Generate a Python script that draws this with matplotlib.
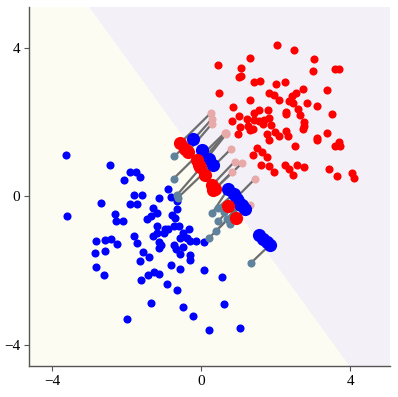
import numpy as np
from matplotlib import pyplot as plt

# clean points, class 0 (blue) and class 1 (red)
blue_x = [-3.62, -2.46, -1.91, -1.76, -1.64, -2.07, -0.89, -1.79, -1.58, -1.12,
          -2.68, -1.91, -1.71, -0.82, -0.64, -1.28, -1.19, -1.35, -1.46, -0.64,
          -2.31, -3.60, -2.28, -2.09, -0.79, -0.69, -1.19, -0.74, -0.59, -0.97,
          -0.90, -1.01, -0.32, -0.48, -1.19, -1.28, -1.79, -2.83, -2.58, -2.42,
          -2.26, -1.73, -1.12, -1.08, -1.14, -0.56, -0.38, -0.30, -0.14, 0.07,
          -0.72, -0.49, -0.67, -0.58, -2.84, -2.59, -1.55, -1.39, -1.64, -0.29,
          -0.31, -2.81, -2.60, -0.82, -0.56, 0.07, -1.26, -1.12, -1.44, -1.62,
          -0.92, -0.64, 0.56, -1.35, -0.48, -0.23, 0.62, -1.99, 0.21, 1.05]
blue_y = [1.11, 0.84, 0.65, 0.65, 0.53, 0.44, 0.19, 0.05, 0.05, -0.05,
          -0.19, -0.21, -0.21, -0.02, -0.13, -0.32, -0.46, -0.52, -0.61, -0.35,
          -0.47, -0.54, -0.67, -0.65, -0.51, -0.57, -0.80, -0.80, -0.80, -0.89,
          -0.89, -0.98, -0.87, -0.98, -0.98, -1.06, -1.07, -1.20, -1.17, -1.14,
          -1.27, -1.26, -1.24, -1.30, -1.38, -1.13, -1.11, -1.21, -1.21, -1.24,
          -1.30, -1.37, -1.43, -1.54, -1.52, -1.48, -1.51, -1.64, -1.73, -1.58,
          -1.72, -1.91, -2.12, -1.85, -1.95, -1.98, -2.04, -2.09, -2.13, -2.26,
          -2.35, -2.53, -2.16, -2.87, -2.97, -3.21, -2.91, -3.29, -3.60, -3.54]

red_x = [2.04, 2.50, 0.45, 1.30, 3.03, 1.06, 1.02, 1.06, 3.00, 3.58,
         3.71, 1.43, 1.59, 2.01, 2.24, 0.48, 1.83, 1.96, 2.09, 2.54,
         2.43, 2.74, 3.37, 1.32, 2.36, 2.46, 2.85, 0.86, 3.10, 1.43,
         1.54, 1.79, 1.01, 2.29, 2.28, 2.60, 2.66, 0.83, 1.24, 1.43,
         1.55, 1.70, 1.83, 2.75, 2.77, 2.74, 3.50, 1.05, 1.27, 1.32,
         1.40, 1.67, 1.87, 0.99, 1.76, 1.99, 2.10, 2.28, 2.34, 1.81,
         3.38, 3.11, 3.10, 2.52, 1.51, 1.63, 1.38, 1.78, 3.60, 3.69,
         3.73, 1.60, 1.81, 1.95, 2.24, 2.37, 2.46, 2.57, 2.77, 3.42,
         3.65, 4.05, 4.09]
red_y = [4.09, 3.94, 3.55, 3.72, 3.69, 3.46, 3.22, 3.25, 3.38, 3.42,
         3.42, 3.09, 3.11, 3.04, 3.07, 2.80, 2.80, 2.74, 2.60, 2.80,
         2.70, 2.90, 2.88, 2.59, 2.57, 2.51, 2.51, 2.41, 2.43, 2.26,
         2.34, 2.32, 2.18, 2.27, 2.23, 2.35, 2.20, 2.03, 2.08, 2.05,
         2.03, 2.05, 2.10, 2.00, 1.91, 1.81, 2.21, 1.86, 1.89, 1.78,
         1.82, 1.96, 1.93, 1.68, 1.69, 1.74, 1.63, 1.75, 1.62, 1.52,
         1.71, 1.57, 1.51, 1.36, 1.30, 1.21, 1.12, 1.06, 1.37, 1.46,
         1.36, 0.85, 0.81, 0.67, 0.85, 0.74, 0.58, 0.84, 0.80, 0.75,
         0.55, 0.63, 0.50]

# attacked points: original position -> adversarial position
blue_orig_x = [-0.72, -0.74, -0.64, -0.62, 0.29, 0.45, 0.60, 0.46, 0.69, 0.78,
               0.39, 0.21, 1.34, 1.52, 1.65, 1.74]
blue_orig_y = [1.08, 0.48, 0.05, -0.03, -0.46, -0.31, -0.42, -0.66, -0.60, -0.75,
               -0.94, -1.12, -1.79, -1.05, -1.16, -1.25]
blue_adv_x = [-0.22, 0.03, 0.20, 0.31, 0.73, 0.87, 0.96, 1.00, 1.05, 1.18,
              1.07, 1.10, 1.85, 1.54, 1.67, 1.76]
blue_adv_y = [1.56, 1.24, 1.02, 0.86, 0.21, 0.07, -0.06, -0.12, -0.20, -0.33,
              -0.24, -0.23, -1.30, -1.03, -1.14, -1.23]

red_orig_x = [0.27, 0.29, 0.29, 0.64, 0.66, 0.68, 0.79, 0.90, 1.10, 0.82, 1.45, 1.30]
red_orig_y = [2.26, 2.09, 1.96, 1.72, 1.70, 1.69, 1.27, 0.94, 0.90, 0.65, 0.48, -0.22]
red_adv_x = [-0.56, -0.43, -0.35, -0.12, -0.07, -0.03, 0.09, 0.29, 0.38, 0.33, 0.71, 0.94]
red_adv_y = [1.44, 1.28, 1.21, 0.97, 0.86, 0.79, 0.57, 0.30, 0.21, 0.16, -0.27, -0.57]

# linear classifier  w . x + b = 0
w = [1.385, 1.0]
b = -0.97

xlim = (-4.62, 5.07)
ylim = (-4.57, 5.1)


def main():
    fig = plt.figure(figsize=(3.98, 3.97), dpi=100)
    ax = fig.add_axes([0.073, 0.078, 0.907, 0.904])

    gx, gy = np.meshgrid(np.linspace(*xlim, 400), np.linspace(*ylim, 400))
    score = w[0] * gx + w[1] * gy + b
    ax.contourf(gx, gy, score, levels=[-100, 0, 100],
                colors=['#fcfcf2', '#f3f1f7'], zorder=0)

    for x0, y0, x1, y1 in zip(blue_orig_x, blue_orig_y, blue_adv_x, blue_adv_y):
        ax.plot([x0, x1], [y0, y1], color='#6e6e6e', lw=1.6, zorder=1)
    for x0, y0, x1, y1 in zip(red_orig_x, red_orig_y, red_adv_x, red_adv_y):
        ax.plot([x0, x1], [y0, y1], color='#6e6e6e', lw=1.6, zorder=1)

    ax.scatter(blue_x, blue_y, s=34, color='#0000ff', lw=0, zorder=2)
    ax.scatter(red_x, red_y, s=34, color='#ff0000', lw=0, zorder=2)
    ax.scatter(blue_orig_x, blue_orig_y, s=34, color='#5f839c', lw=0, zorder=3)
    ax.scatter(red_orig_x, red_orig_y, s=34, color='#e8a9a9', lw=0, zorder=3)
    ax.scatter(blue_adv_x, blue_adv_y, s=90, color='#0000ff', lw=0, zorder=4)
    ax.scatter(red_adv_x, red_adv_y, s=90, color='#ff0000', lw=0, zorder=4)

    ax.set_xlim(*xlim)
    ax.set_ylim(*ylim)
    ax.set_xticks([-4, 0, 4])
    ax.set_yticks([-4, 0, 4])
    for lab in ax.get_xticklabels() + ax.get_yticklabels():
        lab.set_family('Liberation Serif')
        lab.set_fontsize(11)
    for side in ['top', 'right']:
        ax.spines[side].set_visible(False)
    for side in ['left', 'bottom']:
        ax.spines[side].set_color('#555555')
        ax.spines[side].set_linewidth(1.0)
    ax.tick_params(length=3.5, width=0.8, color='#555555', pad=3)

    plt.savefig('out.png', dpi=100)


if __name__ == '__main__':
    main()
